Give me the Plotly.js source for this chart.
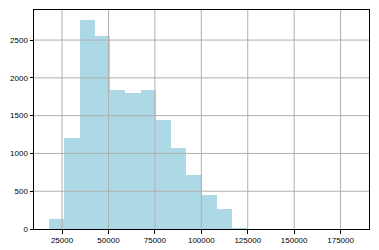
<!DOCTYPE html>
<html>
<head>
<meta charset="utf-8">
<script src="https://cdn.plot.ly/plotly-3.0.1.min.js"></script>
<style>html,body{margin:0;padding:0;background:#fff;}#chart{width:379px;height:250px;}</style>
</head>
<body>
<div id="chart"></div>
<script>
// Histogram bin edges (20 bins) and counts
const binEdges = [18100, 26300, 34500, 42700, 50900, 59100, 67300, 75500, 83700, 91900, 100100,
                  108300, 116500, 124700, 132900, 141100, 149300, 157500, 165700, 173900, 182100];
const counts = [130, 1210, 2760, 2560, 1840, 1805, 1840, 1445, 1070, 710, 455, 267,
                8, 4, 2, 1, 1, 0, 0, 1];
const xTickVals = [25000, 50000, 75000, 100000, 125000, 150000, 175000];
const xTickText = ['25000', '50000', '75000', '100000', '125000', '150000', '175000'];
const yTickVals = [0, 500, 1000, 1500, 2000, 2500];
const yTickText = ['0', '500', '1000', '1500', '2000', '2500'];

const centers = counts.map((c, i) => (binEdges[i] + binEdges[i + 1]) / 2);
const widths = counts.map((c, i) => binEdges[i + 1] - binEdges[i]);

const span = binEdges[binEdges.length - 1] - binEdges[0];
const xRange = [binEdges[0] - 0.05 * span, binEdges[binEdges.length - 1] + 0.05 * span];
const yRange = [0, Math.max(...counts) * 1.05];

const gridColor = '#b0b0b0';
const shapes = [];
xTickVals.forEach(v => shapes.push({type: 'line', xref: 'x', yref: 'paper', x0: v, x1: v, y0: 0, y1: 1,
  line: {color: gridColor, width: 1}, layer: 'above'}));
yTickVals.filter(v => v > 0).forEach(v => shapes.push({type: 'line', xref: 'paper', yref: 'y', x0: 0, x1: 1, y0: v, y1: v,
  line: {color: gridColor, width: 1}, layer: 'above'}));

const trace = {
  type: 'bar', x: centers, y: counts, width: widths,
  marker: {color: '#ADD8E6', line: {width: 0}},
  hoverinfo: 'skip'
};

const axFont = {family: 'Liberation Sans, Arial, sans-serif', size: 8, color: '#000'};
const layout = {
  width: 379, height: 250,
  margin: {l: 34, r: 10, t: 10, b: 21, pad: 0},
  paper_bgcolor: '#fff', plot_bgcolor: '#fff',
  showlegend: false,
  bargap: 0,
  shapes: shapes,
  xaxis: {
    range: xRange, tickvals: xTickVals, ticktext: xTickText,
    showgrid: false, zeroline: false,
    showline: true, mirror: true, linecolor: '#000', linewidth: 1,
    ticks: 'outside', ticklen: 3.5, tickwidth: 1, tickcolor: '#000',
    tickfont: axFont
  },
  yaxis: {
    range: yRange, tickvals: yTickVals, ticktext: yTickText,
    showgrid: false, zeroline: false,
    showline: true, mirror: true, linecolor: '#000', linewidth: 1,
    ticks: 'outside', ticklen: 3.5, tickwidth: 1, tickcolor: '#000',
    tickfont: axFont
  }
};

Plotly.newPlot('chart', [trace], layout, {displayModeBar: false, staticPlot: true});
</script>
</body>
</html>
